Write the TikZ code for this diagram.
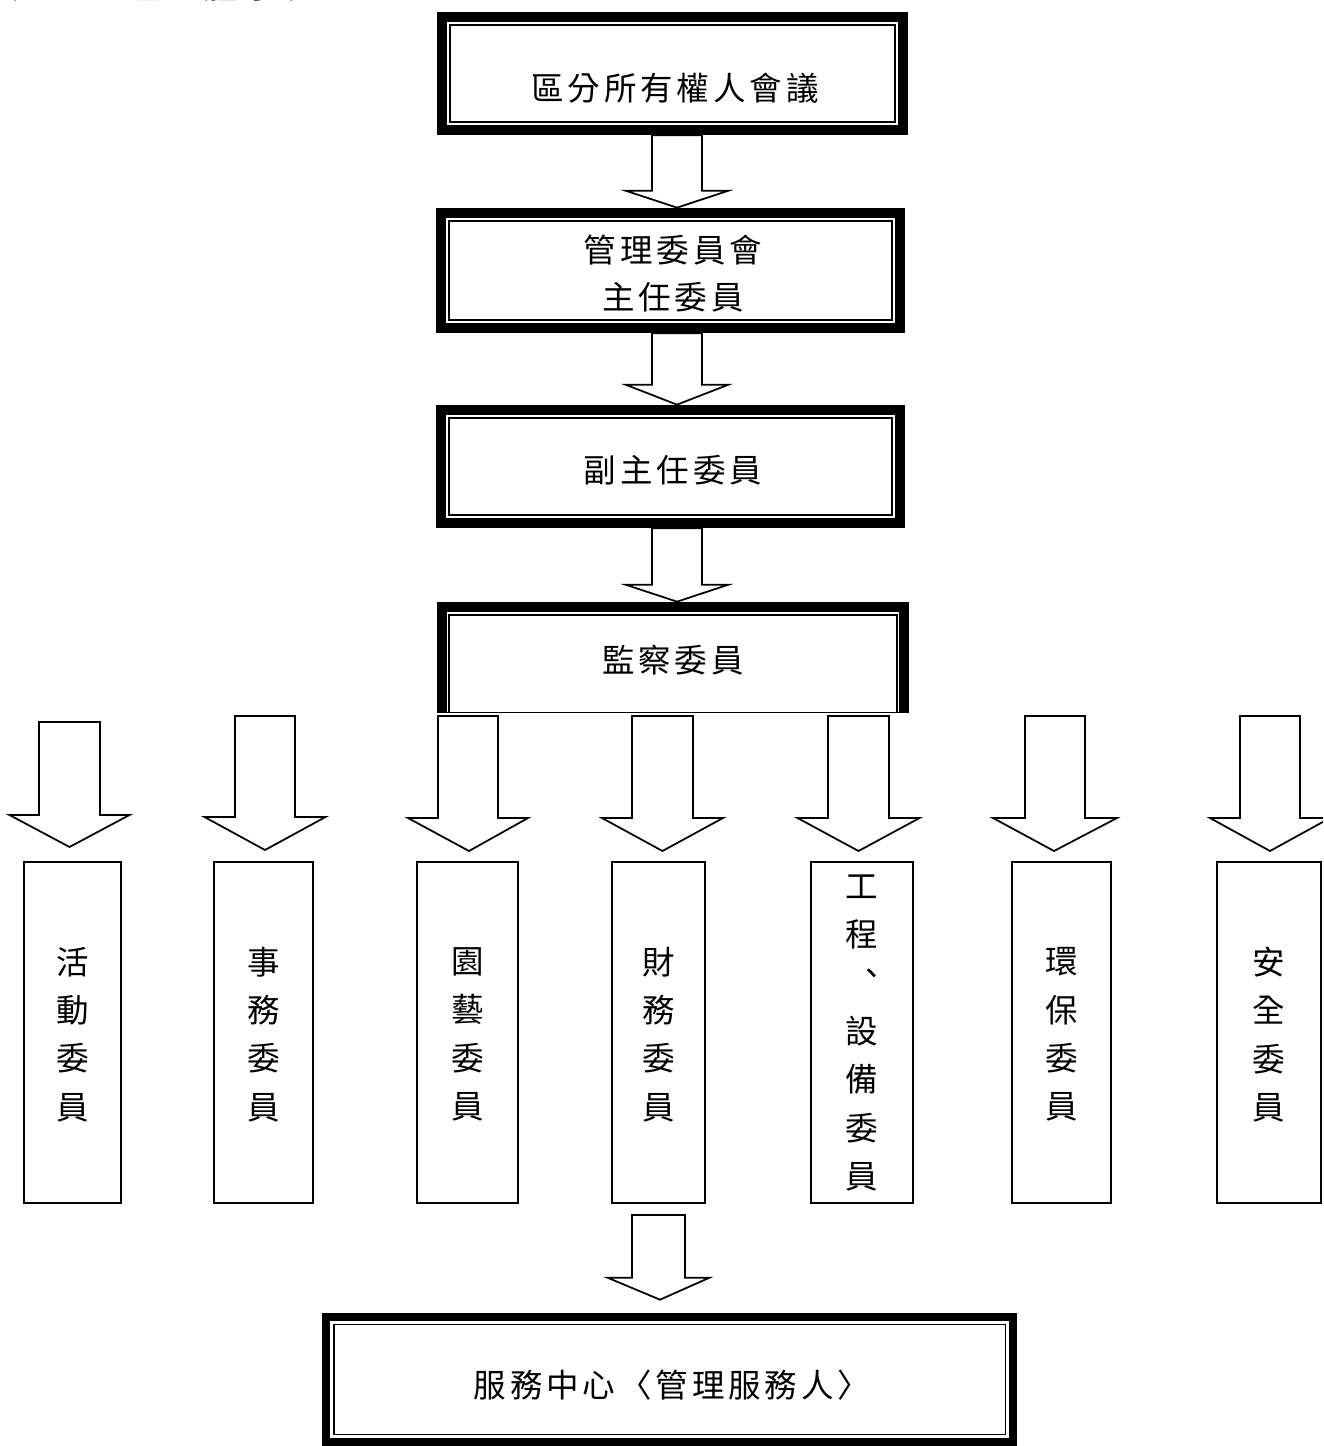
\documentclass[tikz,border=0pt]{standalone}
\usepackage{fontspec}
\newfontfamily\cjk{Noto Sans CJK TC}
\newfontfamily\cjkls[LetterSpace=12]{Noto Sans CJK TC}
\usetikzlibrary{calc}
\tikzset{
  boxnode/.style={rectangle, inner sep=0pt, draw=none},
  htext/.style={font=\cjkls\fontsize{18.5}{26.7}\selectfont, inner sep=0pt, align=center},
  titletext/.style={font=\cjkls\fontsize{20}{24}\selectfont, inner sep=0pt},
  vtext/.style={font=\cjk\fontsize{18.5}{27.5}\selectfont, inner sep=0pt, align=center},
  vbox/.style={rectangle, draw, line width=1.3pt, inner sep=0pt, minimum height=6.82cm},
  arrowline/.style={draw, line width=1pt, line join=miter, fill=white},
  thinline/.style={line width=0.9pt},
}
% thick-thin double frame: #1 node, #2 thick width, #3 half thick (px), #4 thin inset (px)
\newcommand\dframe[4]{%
  \draw[line width=#2] ($(#1.north west)+(#3,#3)$) rectangle ($(#1.south east)+(-#3,-#3)$);
  \draw[thinline] ($(#1.north west)+(#4,#4)$) rectangle ($(#1.south east)+(-#4,-#4)$);}
% block arrow: #1 start, #2 tip, #3 shaft half width, #4 head half width, #5 head length
\newcommand\barrow[5]{%
  \draw[arrowline] let \p1=(#1), \p2=(#2) in
    (\x1-#3,\y1) -- (\x1-#3,\y2+#5) -- (\x1-#4,\y2+#5) -- (\x2,\y2)
    -- (\x1+#4,\y2+#5) -- (\x1+#3,\y2+#5) -- (\x1+#3,\y1) -- cycle;}
\begin{document}
\begin{tikzpicture}[x=0.02cm, y=-0.02cm]
\useasboundingbox (0,0) rectangle (1323,1446);
\clip (0,0) rectangle (1323,1446);

% title (cut off at top edge, as in the reference)
\node[titletext, anchor=base west] (title) at (-33,-1) {附表一　組織體系表};

% main boxes
\node[boxnode, minimum width=9.42cm, minimum height=2.46cm] (b1) at (672.5,73.5) {};
\node[boxnode, minimum width=9.38cm, minimum height=2.5cm] (b2) at (670.5,270.5) {};
\node[boxnode, minimum width=9.38cm, minimum height=2.46cm] (b3) at (670.5,466.5) {};
\node[boxnode, minimum width=9.44cm, minimum height=2.22cm] (b4) at (673,657.5) {};
\node[boxnode, minimum width=13.9cm, minimum height=2.66cm] (b5) at (669.5,1379.5) {};

% vertical boxes
\node[vbox, minimum width=1.94cm] (v1) at (72.5,1032.5) {};
\node[vbox, minimum width=1.98cm] (v2) at (263.5,1032.5) {};
\node[vbox, minimum width=2.02cm] (v3) at (467.5,1032.5) {};
\node[vbox, minimum width=1.86cm] (v4) at (658.5,1032.5) {};
\node[vbox, minimum width=2.04cm] (v5) at (862,1032.5) {};
\node[vbox, minimum width=1.98cm] (v6) at (1061.5,1032.5) {};
\node[vbox, minimum width=2.08cm] (v7) at (1269,1032.5) {};

% arrow end points
\coordinate (a1s) at ($(b1.south)+(4.5,0)$);
\coordinate (a1e) at ($(b2.north)+(6.5,0)$);
\coordinate (a2s) at ($(b2.south)+(6.5,0)$);
\coordinate (a2e) at ($(b3.north)+(6.5,0)$);
\coordinate (a3s) at ($(b3.south)+(6.5,0)$);
\coordinate (a3e) at ($(b4.north)+(4,0)$);
\coordinate (r1s) at (69.5,722);  \coordinate (r1e) at (69.5,847);
\coordinate (r2s) at (265,716);   \coordinate (r2e) at (265,850);
\coordinate (r3s) at (468,716);   \coordinate (r3e) at (469,851);
\coordinate (r4s) at (662.5,716); \coordinate (r4e) at (662.5,851);
\coordinate (r5s) at (858.5,716); \coordinate (r5e) at (858.5,851);
\coordinate (r6s) at (1055,716);  \coordinate (r6e) at (1054,851);
\coordinate (r7s) at (1270,716);  \coordinate (r7e) at (1270,851);
\coordinate (a4s) at (658.5,1215);
\coordinate (a4e) at ($(b5.north)+(-9.5,-13)$);

% block arrows
\barrow{a1s}{a1e}{0.5cm}{1.03cm}{0.34cm}
\barrow{a2s}{a2e}{0.5cm}{1.03cm}{0.4cm}
\barrow{a3s}{a3e}{0.5cm}{1.03cm}{0.34cm}
\barrow{r1s}{r1e}{0.61cm}{1.2cm}{0.64cm}
\barrow{r2s}{r2e}{0.6cm}{1.21cm}{0.66cm}
\barrow{r3s}{r3e}{0.6cm}{1.2cm}{0.66cm}
\barrow{r4s}{r4e}{0.61cm}{1.21cm}{0.66cm}
\barrow{r5s}{r5e}{0.61cm}{1.22cm}{0.66cm}
\barrow{r6s}{r6e}{0.6cm}{1.24cm}{0.66cm}
\barrow{r7s}{r7e}{0.6cm}{1.2cm}{0.66cm}
\barrow{a4s}{a4e}{0.53cm}{1.02cm}{0.44cm}

% frames
\dframe{b1}{0.2cm}{5}{13.5}
\dframe{b2}{0.2cm}{5}{13.5}
\dframe{b3}{0.2cm}{5}{13.5}
\dframe{b5}{0.16cm}{4}{12}
\draw[line width=0.2cm] ($(b4.south west)+(5,0)$) -- ($(b4.north west)+(5,5)$)
  -- ($(b4.north east)+(-5,5)$) -- ($(b4.south east)+(-5,0)$);
\draw[thinline] ($(b4.south west)+(12.5,0)$) -- ($(b4.north west)+(12.5,13.5)$)
  -- ($(b4.north east)+(-12.5,13.5)$) -- ($(b4.south east)+(-12.5,0)$);
\draw[thinline] ($(b4.south west)+(0,-1)$) -- ($(b4.south east)+(0,-1)$);

% texts
\node[htext] (t1) at (675,88) {區分所有權人會議};
\node[htext] (t2) at (673,273.5) {管理委員會\\主任委員};
\node[htext] (t3) at (673,470) {副主任委員};
\node[htext] (t4) at (673,660) {監察委員};
\node[htext] (t5) at (672,1385) {服務中心〈管理服務人〉};

\node[vtext] (s1) at (v1.center |- 0,1034.5) {活\\動\\委\\員};
\node[vtext] (s2) at (v2.center |- 0,1034.5) {事\\務\\委\\員};
\node[vtext] (s3) at (v3.center |- 0,1034.5) {園\\藝\\委\\員};
\node[vtext] (s4) at (v4.center |- 0,1034.5) {財\\務\\委\\員};
\node[vtext] (s5) at (v5.center |- 0,1033) {工\\程\\\makebox[1em][l]{\hspace{0.3em}\raisebox{0.3em}{、}}\\設\\備\\委\\員};
\node[vtext] (s6) at (v6.center |- 0,1034.5) {環\\保\\委\\員};
\node[vtext] (s7) at (v7.center |- 0,1034.5) {安\\全\\委\\員};
\end{tikzpicture}
\end{document}
